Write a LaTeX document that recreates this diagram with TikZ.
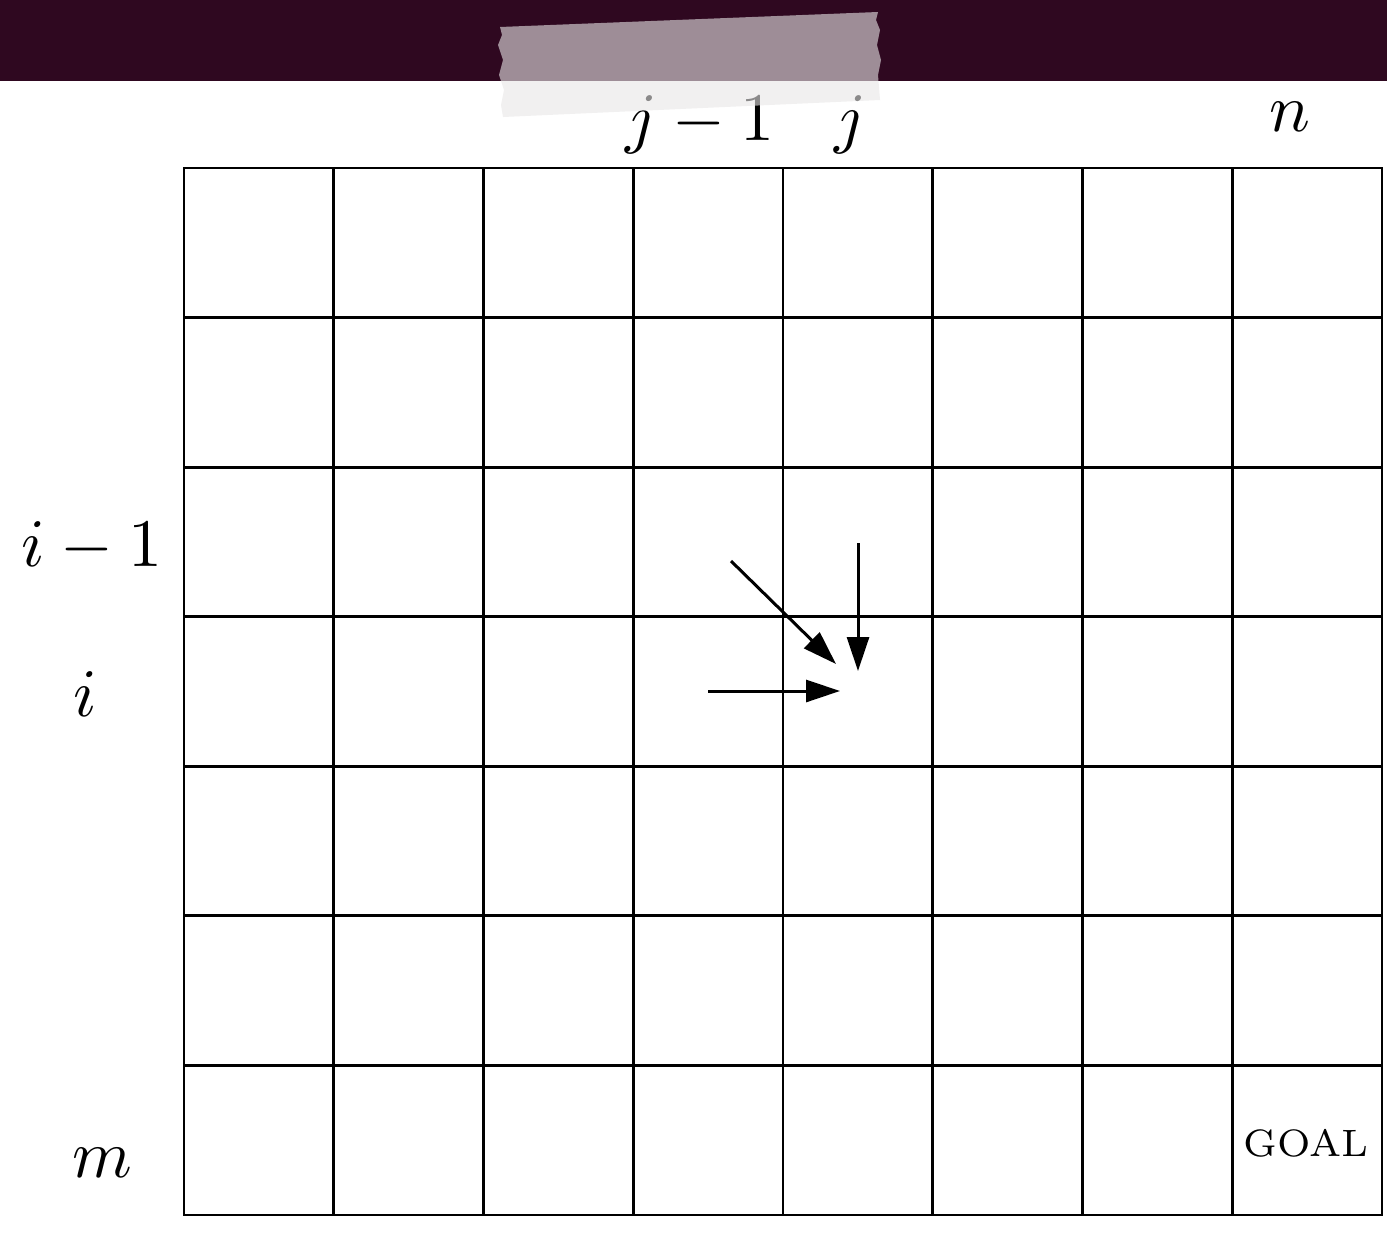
\documentclass[tikz,border=0pt]{standalone}
\usetikzlibrary{arrows.meta}
\definecolor{band}{HTML}{2F0820}
\definecolor{tapec}{HTML}{E8E6E7}
\newcommand{\biglbl}[1]{\scalebox{6.8}{$#1$}}
\begin{document}
\begin{tikzpicture}[x=1pt,y=-1pt,
  gridline/.style={line width=2.8pt,black},
  lbl/.style={inner sep=0pt},
  goal/.style={inner sep=0pt},
  flow/.style={line width=3pt,-{Triangle[length=34pt,width=22pt]}}]
\useasboundingbox (0,0) rectangle (1387,1239);
\fill[white] (0,0) rectangle (1387,1239);
% top band
\fill[band] (0,0) rectangle (1387,81);
% grid
\draw[gridline] (184,168) rectangle (1382,1215);
\foreach \k in {1,...,7} {
  \draw[gridline] ({184+\k*149.75},168) -- ({184+\k*149.75},1215);
}
\foreach \k in {1,...,6} {
  \draw[gridline] (184,{168+\k*149.57}) -- (1382,{168+\k*149.57});
}
% column labels
\node[lbl,anchor=base] (jm1) at (700,140) {\biglbl{j-1}};
\node[lbl,anchor=base] (jj) at (850,140) {\biglbl{j}};
\node[lbl,anchor=base] (nn) at (1290,131) {\biglbl{n}};
% row labels
\node[lbl,anchor=base] (im1) at (92,566) {\biglbl{i-1}};
\node[lbl,anchor=base] (ii) at (85,716) {\biglbl{i}};
\node[lbl,anchor=base] (mm) at (102,1177) {\biglbl{m}};
\node[goal,anchor=base] (goal) at (1306,1156) {\scalebox{5.45}{\scriptsize GOAL}};
% arrows
\coordinate (dA) at (731,561);
\coordinate (dB) at (836,664);
\coordinate (vA) at (858,543);
\coordinate (vB) at (858,671);
\coordinate (hA) at (708,691);
\coordinate (hB) at (840,691);
\draw[flow] (dA) -- (dB);
\draw[flow] (vA) -- (vB);
\draw[flow] (hA) -- (hB);
% tape
\fill[tapec,opacity=0.6] (500,27) -- (878,12) -- (876,20) -- (880,30) -- (877,45) -- (881,60) -- (878,75) -- (880,100)
  -- (503,117) -- (501,105) -- (504,90) -- (499,75) -- (503,60) -- (498,45) -- (502,35) -- cycle;
\end{tikzpicture}
\end{document}
